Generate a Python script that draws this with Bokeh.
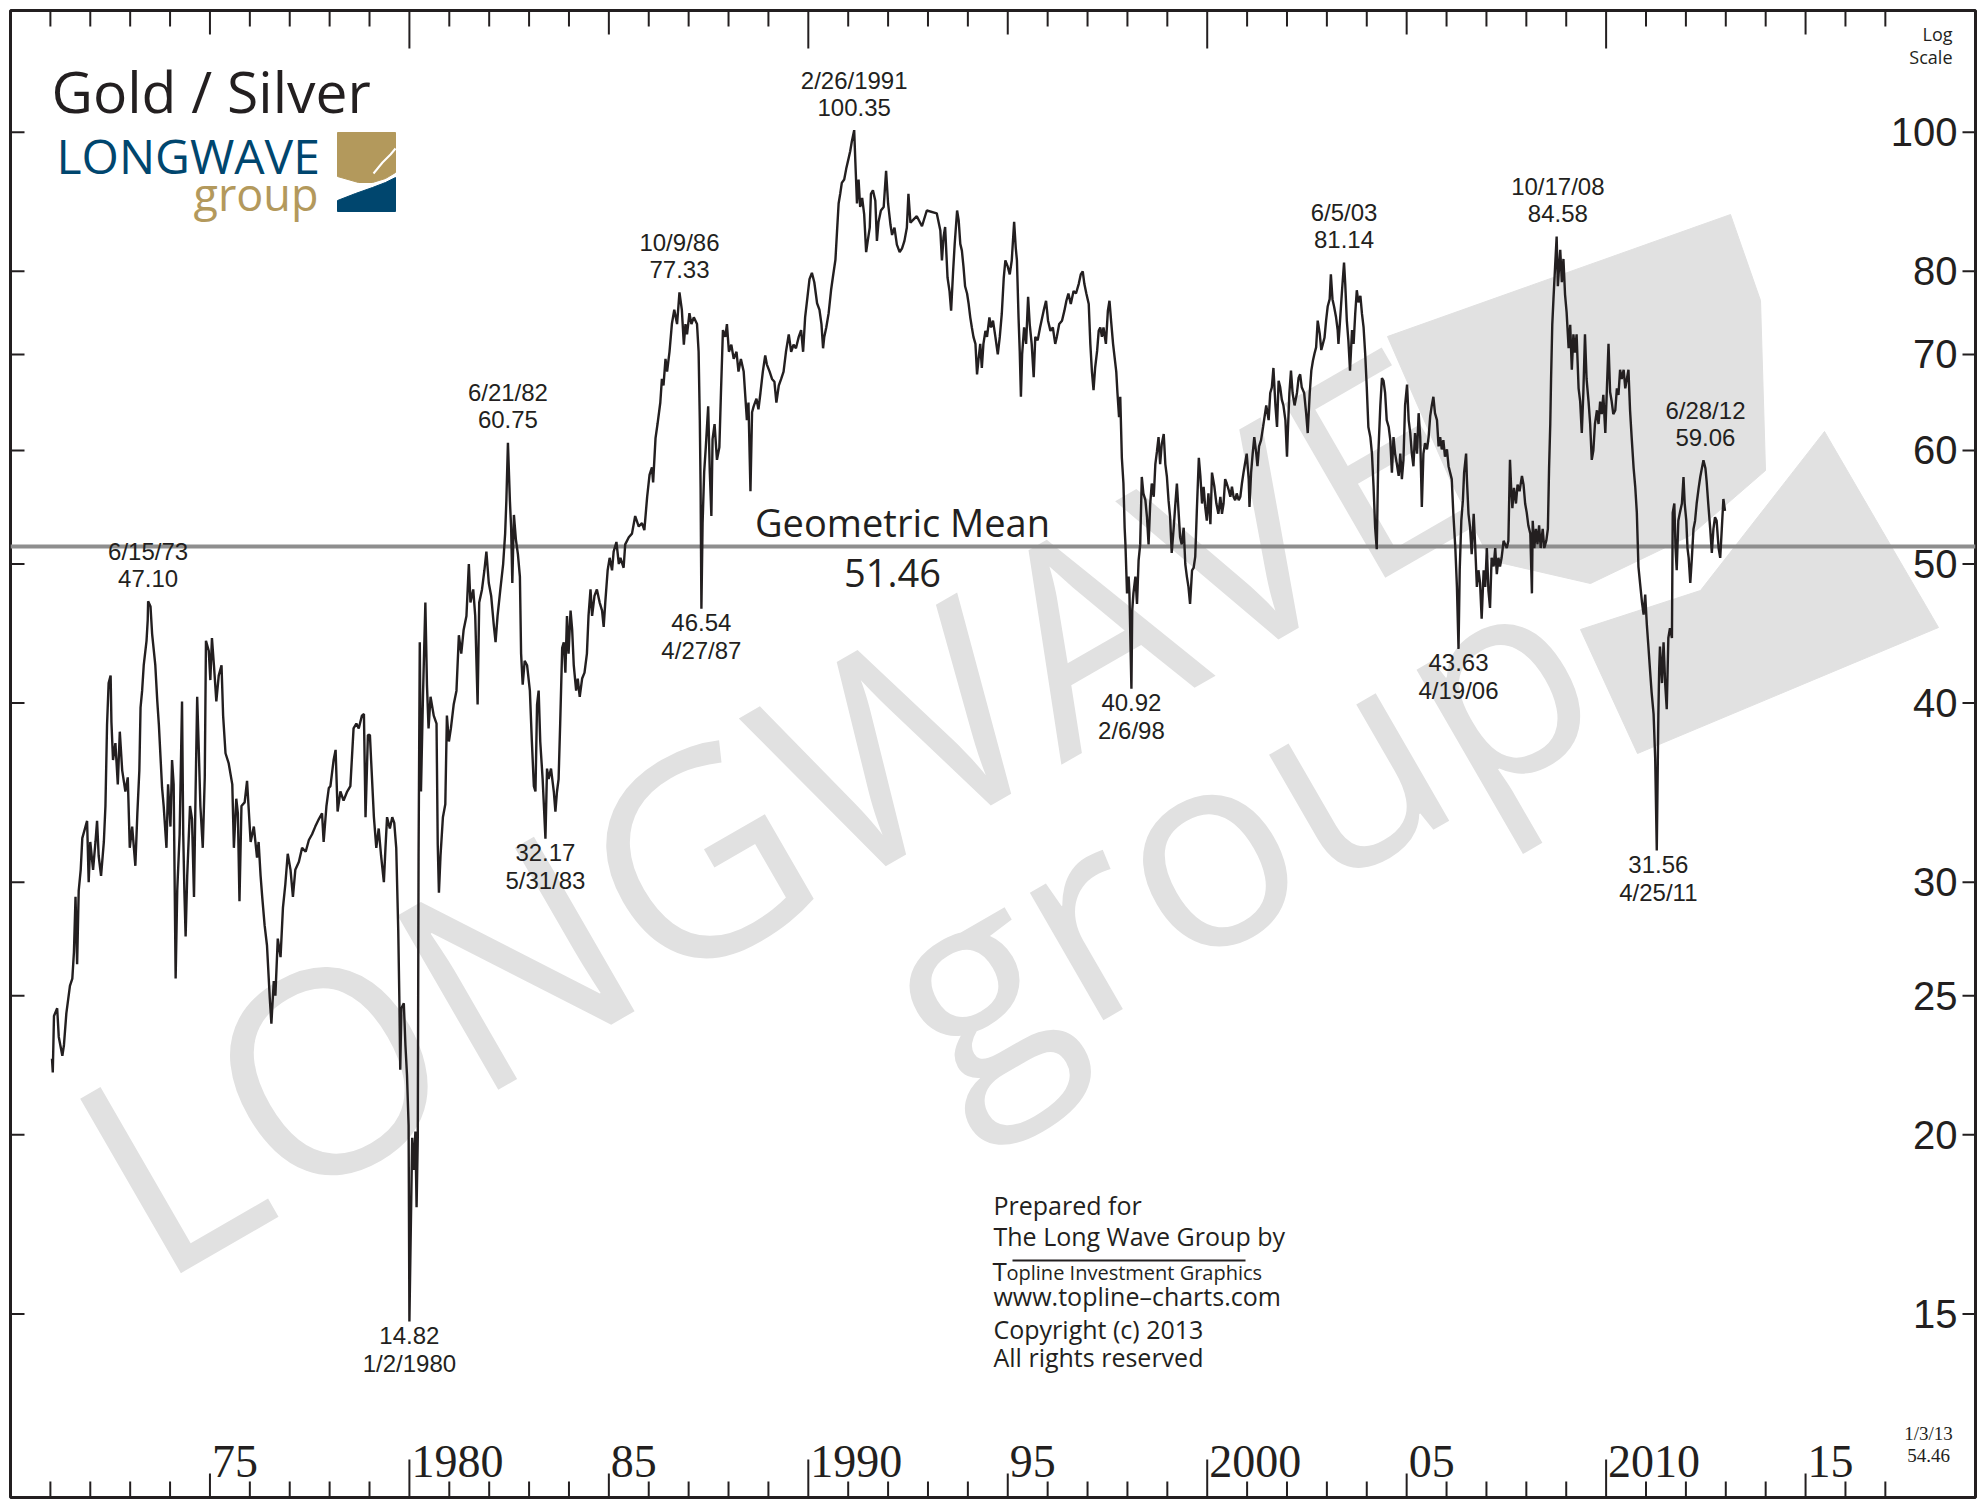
from bokeh.plotting import figure
from bokeh.models import Range1d, LinearScale
from bokeh.embed import file_html
from bokeh.resources import INLINE
from bokeh.core.properties import value
import math

# ---------------- data (decimal year, gold/silver ratio) ----------------
years_70s = [1971.04,1971.06,1971.09,1971.17,1971.21,1971.30,1971.34,1971.40,1971.49,1971.55,1971.59,1971.63,1971.67,1971.71,1971.76,1971.80,1971.88,1971.92,1971.96,
    1972.00,1972.07,1972.13,1972.17,1972.21,1972.27,1972.34,1972.38,1972.42,1972.46,1972.51,1972.53,1972.57,1972.63,1972.69,1972.74,1972.80,1972.88,1972.94,1972.99,
    1973.05,1973.13,1973.18,1973.23,1973.26,1973.30,1973.34,1973.41,1973.44,1973.45,1973.51,1973.55,1973.63,1973.68,1973.72,1973.76,1973.80,1973.84,1973.91,1973.95,
    1974.01,1974.05,1974.09,1974.14,1974.18,1974.24,1974.30,1974.33,1974.36,1974.39,1974.43,1974.50,1974.55,1974.60,1974.64,1974.68,1974.72,1974.76,1974.82,1974.87,1974.90,1974.97,
    1975.01,1975.05,1975.10,1975.16,1975.22,1975.29,1975.33,1975.39,1975.47,1975.56,1975.60,1975.66,1975.70,1975.74,1975.79,1975.87,1975.93,
    1976.02,1976.10,1976.18,1976.22,1976.27,1976.31,1976.37,1976.43,1976.50,1976.54,1976.60,1976.64,1976.70,1976.77,1976.83,1976.89,1976.95,
    1977.02,1977.08,1977.14,1977.23,1977.31,1977.40,1977.48,1977.56,1977.64,1977.73,1977.81,1977.85,1977.92,1977.98,
    1978.02,1978.10,1978.15,1978.20,1978.27,1978.35,1978.44,1978.52,1978.60,1978.67,1978.73,1978.81,1978.86,1978.90,1978.96,
    1979.01,1979.04,1979.11,1979.17,1979.23,1979.29,1979.36,1979.40,1979.44,1979.51,1979.57,1979.62,1979.67,1979.72,1979.75,1979.77,1979.80,1979.86,1979.90,1979.94,1979.98]
ratio_70s = [22.6,22.1,24.2,24.5,23.4,22.7,23.1,24.3,25.4,25.7,26.8,29.3,26.3,29.6,30.6,32.2,32.8,33.1,30.0,
    32.0,30.6,32.0,33.1,31.3,30.3,32.0,33.9,38.6,41.3,41.8,38.8,36.5,37.5,35.1,38.2,35.9,34.7,35.5,31.7,
    32.8,30.8,33.5,35.9,39.7,40.8,42.5,44.2,45.7,47.10,46.7,44.7,42.5,40.1,38.6,36.7,34.9,33.9,31.7,35.1,
    32.8,36.5,35.1,25.7,29.6,32.4,40.1,32.4,29.5,27.5,30.3,33.9,33.2,29.3,34.7,40.4,37.1,33.9,31.7,35.5,44.2,43.5,
    41.5,44.4,42.5,40.1,41.8,42.5,39.2,36.9,36.3,35.1,31.7,34.3,33.5,29.1,33.9,34.1,35.3,
    32.0,32.8,31.2,32.0,30.3,29.3,28.0,27.1,24.9,23.9,25.6,25.0,27.4,26.6,28.8,29.9,31.4,
    30.6,29.3,30.6,31.0,31.7,31.5,32.1,32.4,32.8,33.2,33.5,32.0,33.9,34.9,
    35.0,36.5,37.1,33.6,34.7,34.2,34.7,35.0,38.4,38.7,38.4,39.2,39.3,33.3,38.0,
    38.0,36.5,33.3,31.7,32.7,31.3,30.0,31.7,33.3,32.7,33.3,33.0,31.7,27.8,24.7,22.2,24.5,24.7,23.1,22.0,20.3]

years_80s = [1980.00,1980.07,1980.11,1980.15,1980.18,1980.21,1980.23,1980.26,1980.29,1980.34,1980.40,1980.44,1980.48,1980.53,1980.61,1980.68,1980.71,1980.74,1980.78,1980.84,1980.90,1980.94,1980.99,
    1981.04,1981.11,1981.18,1981.24,1981.30,1981.36,1981.43,1981.49,1981.53,1981.60,1981.65,1981.71,1981.75,1981.82,1981.88,1981.93,1981.99,
    1982.05,1982.11,1982.16,1982.21,1982.28,1982.35,1982.40,1982.43,1982.47,1982.52,1982.55,1982.58,1982.62,1982.67,1982.72,1982.77,1982.80,1982.84,1982.89,1982.95,
    1983.02,1983.07,1983.12,1983.16,1983.20,1983.24,1983.28,1983.34,1983.37,1983.41,1983.45,1983.49,1983.55,1983.62,1983.66,1983.70,1983.74,1983.78,1983.83,1983.87,1983.91,1983.95,1983.99,
    1984.04,1984.08,1984.12,1984.18,1984.22,1984.27,1984.33,1984.39,1984.45,1984.49,1984.54,1984.58,1984.64,1984.70,1984.77,1984.83,1984.87,1984.91,1984.97,
    1985.02,1985.08,1985.12,1985.19,1985.25,1985.29,1985.37,1985.41,1985.50,1985.58,1985.66,1985.75,1985.83,1985.89,1985.96,
    1986.02,1986.08,1986.11,1986.17,1986.22,1986.29,1986.33,1986.37,1986.42,1986.46,1986.52,1986.58,1986.64,1986.71,1986.77,1986.83,1986.88,1986.92,1986.96,
    1987.02,1987.07,1987.13,1987.21,1987.25,1987.28,1987.30,1987.32,1987.35,1987.39,1987.43,1987.49,1987.53,1987.57,1987.60,1987.65,1987.71,1987.77,1987.81,1987.86,1987.92,1987.96,
    1988.01,1988.07,1988.13,1988.20,1988.25,1988.31,1988.38,1988.42,1988.46,1988.50,1988.55,1988.59,1988.63,1988.70,1988.75,1988.80,1988.86,1988.92,1988.96,
    1989.03,1989.09,1989.15,1989.20,1989.26,1989.32,1989.38,1989.44,1989.51,1989.57,1989.63,1989.69,1989.76,1989.82,1989.87,1989.92,1989.98]
ratio_80s = [14.82,19.9,18.9,20.1,17.8,19.9,31.3,44.1,34.7,40.4,47.0,41.2,38.4,40.4,39.2,38.7,31.9,29.5,31.3,33.3,34.0,39.2,37.6,
    38.4,39.9,40.8,44.6,43.3,45.0,46.0,50.0,47.0,48.0,46.0,39.9,47.0,48.0,49.5,51.0,48.5,
    47.5,45.5,44.1,46.0,48.0,50.0,52.5,55.3,60.75,55.3,53.0,48.5,54.1,52.0,50.8,49.0,43.3,41.2,42.8,42.5,
    40.8,37.6,35.0,34.7,39.9,40.8,37.6,35.4,34.0,32.17,36.0,35.4,36.0,34.7,33.6,34.7,35.4,38.7,43.7,44.1,42.0,46.0,43.3,
    46.4,45.0,42.5,40.8,41.6,40.4,41.6,42.0,43.3,46.0,48.0,46.0,47.5,48.0,47.0,46.4,45.2,47.0,49.5,
    50.5,49.5,51.0,51.8,50.0,50.5,49.7,51.6,52.2,52.5,54.0,53.1,53.4,52.8,55.7,
    57.7,58.4,57.0,61.2,62.6,64.8,67.3,66.6,69.5,68.1,70.3,73.5,75.2,73.5,77.33,75.2,71.1,73.5,72.3,
    74.8,73.5,74.3,73.5,70.3,63.0,56.4,46.54,53.4,58.0,60.3,64.4,58.0,54.0,61.1,62.6,59.1,60.3,65.8,72.8,72.0,73.5,
    70.3,71.1,69.5,70.3,68.1,69.5,68.1,65.5,63.0,64.8,56.2,63.8,64.4,65.2,64.1,65.8,68.1,69.9,68.9,
    68.1,67.3,67.0,64.8,66.6,67.3,68.1,70.3,72.3,70.3,71.1,70.7,72.0,72.8,70.3,74.3,76.8]

years_90s = [1990.03,1990.09,1990.15,1990.22,1990.28,1990.33,1990.37,1990.40,1990.45,1990.51,1990.57,1990.62,1990.68,1990.72,1990.76,1990.80,1990.84,1990.90,1990.95,
    1991.01,1991.05,1991.09,1991.15,1991.18,1991.22,1991.26,1991.30,1991.35,1991.40,1991.45,1991.49,1991.54,1991.57,1991.62,1991.68,1991.72,1991.76,1991.82,1991.89,1991.95,
    1992.00,1992.06,1992.10,1992.16,1992.22,1992.29,1992.35,1992.41,1992.47,1992.51,1992.56,1992.72,1992.85,1992.97,
    1993.22,1993.31,1993.35,1993.39,1993.43,1993.49,1993.54,1993.58,1993.63,1993.67,1993.73,1993.77,1993.81,1993.85,1993.89,1993.93,1993.98,
    1994.02,1994.06,1994.10,1994.14,1994.19,1994.23,1994.27,1994.31,1994.35,1994.39,1994.44,1994.48,1994.54,1994.58,1994.63,1994.69,1994.75,1994.80,1994.85,1994.90,1994.94,
    1995.00,1995.05,1995.10,1995.16,1995.20,1995.23,1995.27,1995.30,1995.33,1995.36,1995.41,1995.46,1995.51,1995.55,1995.60,1995.65,1995.69,1995.75,1995.81,1995.90,1995.96,
    1996.01,1996.07,1996.13,1996.19,1996.23,1996.29,1996.36,1996.42,1996.47,1996.52,1996.58,1996.65,1996.71,1996.78,1996.83,1996.88,1996.92,1996.97,
    1997.03,1997.07,1997.11,1997.15,1997.19,1997.24,1997.28,1997.32,1997.36,1997.40,1997.46,1997.51,1997.55,1997.59,1997.64,1997.67,1997.72,1997.75,1997.79,1997.82,1997.86,1997.90,1997.93,1997.95,1997.99,
    1998.03,1998.05,1998.10,1998.12,1998.15,1998.20,1998.24,1998.28,1998.32,1998.36,1998.40,1998.45,1998.49,1998.53,1998.57,1998.61,1998.66,1998.70,1998.74,1998.78,1998.82,1998.86,1998.91,1998.95,1998.99,
    1999.03,1999.07,1999.11,1999.16,1999.20,1999.24,1999.28,1999.32,1999.36,1999.41,1999.45,1999.49,1999.53,1999.57,1999.62,1999.66,1999.70,1999.74,1999.79,1999.83,1999.87,1999.91,1999.95,1999.99]
ratio_90s = [79.0,79.8,78.6,76.0,75.2,73.5,70.7,72.0,73.1,74.8,77.6,79.4,81.5,85.3,89.2,90.6,92.2,92.7,94.3,
    95.9,97.0,98.5,100.35,95.3,89.2,92.7,88.7,90.0,87.7,82.5,84.0,85.8,90.6,91.1,89.6,84.0,86.6,88.2,88.7,94.0,
    89.2,86.2,84.8,85.8,83.5,82.5,83.0,84.0,85.8,90.6,86.5,87.4,86.0,88.2,
    87.8,85.4,81.4,84.5,85.9,79.2,77.5,75.1,80.0,83.6,88.2,86.8,83.6,82.7,80.6,78.1,77.2,
    75.9,74.3,73.1,72.0,71.2,67.8,69.6,71.2,68.5,71.2,72.7,72.0,74.3,73.1,73.9,72.0,70.0,72.0,74.7,79.2,81.4,
    80.6,79.6,81.4,86.6,83.1,81.4,74.3,70.4,65.4,70.0,73.1,71.2,76.8,73.5,71.2,67.5,72.0,71.6,73.1,75.1,76.3,
    73.9,72.7,73.1,71.2,72.0,73.5,73.9,75.1,76.3,77.2,75.9,77.5,77.2,78.4,79.6,80.0,78.4,77.2,
    75.9,71.2,68.1,66.1,68.5,70.4,72.7,73.1,72.0,73.1,71.2,75.1,76.3,73.9,71.2,70.0,68.1,65.8,63.3,65.4,59.3,56.9,53.0,51.6,47.7,
    49.0,47.7,40.92,46.4,47.7,49.0,46.9,50.3,51.6,57.5,56.0,55.4,53.9,51.6,55.0,56.9,55.7,58.7,59.9,61.3,58.7,60.6,61.6,58.7,57.5,
    55.4,53.9,50.9,53.0,55.0,56.9,54.5,52.2,51.6,53.0,50.0,49.0,48.2,46.9,49.5,49.7,50.6,54.5,59.3,57.5,55.1,56.6,54.8,53.6]

years_00s = [2000.03,2000.08,2000.12,2000.18,2000.23,2000.28,2000.33,2000.37,2000.41,2000.45,2000.49,2000.54,2000.58,2000.62,2000.66,2000.70,2000.74,2000.79,2000.83,2000.87,2000.91,2000.95,2000.99,
    2001.04,2001.06,2001.10,2001.14,2001.18,2001.23,2001.26,2001.30,2001.35,2001.40,2001.44,2001.48,2001.54,2001.58,2001.62,2001.66,2001.71,2001.75,2001.79,2001.83,2001.87,2001.91,2001.96,
    2002.00,2002.02,2002.06,2002.10,2002.14,2002.19,2002.25,2002.29,2002.33,2002.37,2002.43,2002.48,2002.52,2002.57,2002.61,2002.65,2002.69,2002.73,2002.77,2002.82,2002.86,2002.90,2002.94,2002.98,
    2003.02,2003.07,2003.10,2003.14,2003.18,2003.23,2003.27,2003.29,2003.33,2003.38,2003.43,2003.46,2003.50,2003.54,2003.58,2003.63,2003.67,2003.71,2003.75,2003.79,2003.84,2003.88,2003.92,2003.96,
    2004.00,2004.04,2004.09,2004.13,2004.17,2004.21,2004.25,2004.29,2004.34,2004.38,2004.42,2004.46,2004.50,2004.55,2004.59,2004.63,2004.67,2004.71,2004.75,2004.80,2004.84,2004.88,2004.92,2004.96,
    2005.01,2005.05,2005.09,2005.13,2005.17,2005.21,2005.26,2005.30,2005.34,2005.38,2005.42,2005.46,2005.51,2005.55,2005.59,2005.63,2005.67,2005.71,2005.76,2005.80,2005.84,2005.88,2005.92,2005.96,
    2006.01,2006.05,2006.09,2006.13,2006.17,2006.22,2006.26,2006.30,2006.33,2006.37,2006.41,2006.44,2006.49,2006.51,2006.55,2006.59,2006.63,2006.68,2006.72,2006.76,2006.80,
    2006.84,2006.88,2006.93,2006.97,2007.01,2007.05,2007.09,2007.13,2007.18,2007.22,2007.26,2007.30,2007.34,2007.38,2007.43,2007.47,2007.51,2007.55,2007.59,2007.62,2007.65,2007.69,2007.74,2007.78,2007.83,2007.89,2007.93,2007.97,
    2008.01,2008.05,2008.10,2008.14,2008.16,2008.20,2008.24,2008.28,2008.32,2008.36,2008.41,2008.45,2008.50,2008.54,2008.57,2008.60,2008.62,2008.65,2008.68,2008.72,2008.76,2008.79,2008.85,2008.89,2008.93,2008.97,
    2009.01,2009.06,2009.10,2009.14,2009.18,2009.22,2009.26,2009.31,2009.35,2009.39,2009.43,2009.47,2009.51,2009.56,2009.60,2009.64,2009.68,2009.72,2009.77,2009.81,2009.85,2009.89,2009.93,2009.98]
ratio_00s = [56.0,53.3,57.9,56.6,55.1,54.2,55.7,54.2,55.1,57.3,56.9,56.3,55.7,56.6,55.7,55.4,56.0,55.4,55.7,56.9,57.9,58.8,59.7,
    57.3,54.8,57.9,59.7,61.3,59.7,58.5,60.4,61.0,62.3,63.4,64.5,63.0,65.8,66.4,68.5,64.5,62.3,67.1,66.4,65.1,64.5,63.0,
    59.4,61.7,65.8,68.2,65.8,64.5,65.8,67.4,67.8,66.4,65.8,63.7,61.7,65.8,68.2,69.3,70.1,70.8,73.9,72.4,70.5,71.2,71.9,73.9,
    75.6,76.5,79.6,76.5,75.6,74.3,72.8,71.2,73.9,77.6,81.14,78.4,73.9,71.5,68.2,72.8,71.2,74.7,77.6,76.1,76.9,74.7,73.1,70.1,
    66.4,62.3,61.3,59.7,56.6,53.0,51.2,59.7,64.5,67.4,67.1,65.8,63.0,62.3,61.0,57.9,61.3,59.7,58.8,57.6,59.7,57.3,59.1,64.5,
    66.7,63.0,61.7,59.7,58.5,61.7,59.7,63.7,61.3,54.8,59.7,60.7,60.1,61.3,63.4,64.5,65.4,63.7,63.0,60.4,61.3,60.1,61.0,59.4,
    60.1,58.5,57.9,57.3,54.2,51.3,48.2,43.63,49.5,53.6,55.4,57.9,59.7,57.3,54.2,53.0,50.8,54.2,51.3,48.2,49.5,
    48.5,45.8,49.5,48.2,51.3,47.9,46.6,50.5,49.8,51.3,49.2,50.5,49.8,50.5,51.9,51.6,51.3,51.9,59.1,56.5,54.7,56.5,55.1,56.8,56.2,57.6,56.8,
    55.1,54.3,53.2,52.5,47.7,53.6,51.3,52.9,51.6,53.2,51.3,52.9,51.3,51.9,52.9,58.3,62.6,67.3,73.4,76.5,80.5,84.58,78.1,82.8,78.6,81.6,
    77.1,74.9,70.7,73.4,68.3,72.3,70.2,72.3,66.3,64.9,61.7,65.9,72.3,67.3,64.9,62.6,59.1,60.0,62.6,64.0,62.6,64.9,63.6,65.6]

years_10s = [2010.02,2010.06,2010.10,2010.14,2010.18,2010.23,2010.27,2010.31,2010.35,2010.39,2010.44,2010.48,2010.52,2010.56,2010.60,2010.64,2010.69,2010.73,2010.77,2010.81,2010.85,2010.90,2010.94,2010.98,
    2011.02,2011.06,2011.10,2011.14,2011.19,2011.23,2011.27,2011.31,2011.33,2011.35,2011.40,2011.44,2011.48,2011.52,2011.56,2011.60,2011.65,2011.67,2011.71,2011.74,2011.77,2011.81,2011.85,2011.90,2011.94,2011.97,
    2012.01,2012.04,2012.07,2012.11,2012.15,2012.19,2012.23,2012.27,2012.32,2012.36,2012.40,2012.44,2012.49,2012.52,2012.56,2012.61,2012.65,2012.69,2012.73,2012.77,2012.82,2012.86,2012.90,2012.94,2012.98,2013.01]
ratio_10s = [61.7,66.3,71.2,65.9,64.9,63.6,64.0,66.3,65.6,68.3,67.3,68.3,66.3,67.3,68.3,64.0,61.3,58.3,56.6,54.3,49.8,48.5,47.0,46.1,
    47.6,45.4,43.8,42.2,40.7,39.3,36.6,31.56,39.3,42.2,43.8,41.3,44.1,41.3,39.6,44.4,45.1,44.4,54.3,55.1,51.3,49.5,53.6,54.3,55.1,57.5,
    55.1,53.6,51.3,50.5,48.5,50.5,52.9,53.6,55.1,56.5,57.5,58.3,59.06,58.3,57.1,55.1,52.9,50.9,52.9,53.9,53.6,51.3,50.5,52.9,55.5,54.46]

years = years_70s + years_80s + years_90s + years_00s + years_10s
ratio = ratio_70s + ratio_80s + ratio_90s + ratio_00s + ratio_10s

geo_mean = 51.46
y_ticks = [15, 20, 25, 30, 40, 50, 60, 70, 80, 100]
y_tick_labels = ["15", "20", "25", "30", "40", "50", "60", "70", "80", "100"]
year_ticks = list(range(1971, 2018))
label_years = [1975, 1980, 1985, 1990, 1995, 2000, 2005, 2010, 2015]
label_texts = ["75", "1980", "85", "1990", "95", "2000", "05", "2010", "15"]

ann_x = [1973.45, 1982.47, 1986.77, 1991.15, 2003.43, 2008.79, 2012.49]
ann_v = [47.10, 60.75, 77.33, 100.35, 81.14, 84.58, 59.06]
ann_d = ["6/15/73", "6/21/82", "10/9/86", "2/26/1991", "6/5/03", "10/17/08", "6/28/12"]
low_x = [1980.00, 1983.41, 1987.32, 1998.10, 2006.30, 2011.31]
low_v = [14.82, 32.17, 46.54, 40.92, 43.63, 31.56]
low_d = ["1/2/1980", "5/31/83", "4/27/87", "2/6/98", "4/19/06", "4/25/11"]
last_date, last_value = "1/3/13", 54.46

# ---------------- figure ----------------
FW, FH = 1965, 1487
p = figure(frame_width=FW, frame_height=FH, output_backend="svg", toolbar_location=None,
           x_range=Range1d(1970.0, 2019.26), y_range=Range1d(11.17, 121.6), y_axis_type="log",
           x_axis_location=None, y_axis_location=None,
           min_border_left=10, min_border_top=10, min_border_right=2, min_border_bottom=2)
p.grid.visible = False
p.outline_line_color = "#231f20"
p.outline_line_width = 3
p.background_fill_color = "white"
p.border_fill_color = "white"
p.extra_x_ranges = {"px": Range1d(0, FW)}
p.extra_y_ranges = {"px": Range1d(FH, 0)}
p.extra_x_scales = {"px": LinearScale()}
p.extra_y_scales = {"px": LinearScale()}

WM = "#e1e1e1"
INK = "#231f20"
PX = dict(x_range_name="px", y_range_name="px")

def txt(x, y, t, size, font="Open Sans", align="left", color=INK, **kw):
    p.text(x=x, y=y, text=t, text_font=value(font), text_font_size=size, text_color=color,
           text_align=align, text_baseline="middle", **kw)

# ---------------- watermark ----------------
ang = math.radians(30)
txt([92], [1182], ["LONGWAVE"], "282px", color=WM, angle=ang, **PX)
txt([890], [1004], ["group"], "275px", color=WM, angle=ang, **PX)
p.patch(x=[1377, 1720, 1750, 1755, 1680, 1580, 1480, 1440], y=[326, 204, 290, 460, 525, 573, 550, 470],
        color=WM, **PX)
p.patch(x=[1570, 1690, 1814, 1928, 1627], y=[619, 580, 421, 617, 743], color=WM, **PX)

# ---------------- geometric mean ----------------
p.hspan(y=[geo_mean], line_color="#8e8e8e", line_width=4)
txt([892], [511], ["Geometric Mean"], "38px", align="center", **PX)
txt([882], [562], [f"{geo_mean:.2f}"], "38px", align="center", **PX)

# ---------------- series ----------------
p.line(years, ratio, line_color=INK, line_width=2.4)

# ---------------- annotations ----------------
txt(ann_x, ann_v, [f"{v:.2f}" for v in ann_v], "24px", font="Liberation Sans", align="center", y_offset=-23)
txt(ann_x, ann_v, ann_d, "24px", font="Liberation Sans", align="center", y_offset=-50)
txt(low_x, low_v, [f"{v:.2f}" for v in low_v], "24px", font="Liberation Sans", align="center", y_offset=14)
txt(low_x, low_v, low_d, "24px", font="Liberation Sans", align="center", y_offset=42)

# ---------------- axes (drawn) ----------------
def tick_len(y):
    return 38 if y % 10 == 0 else (24 if y % 5 == 0 else 16)

tl = [tick_len(y) for y in year_ticks]
p.segment(x0=year_ticks, y0=[0] * len(year_ticks), x1=year_ticks, y1=tl, line_color=INK, line_width=2,
          y_range_name="px")
p.segment(x0=year_ticks, y0=[FH] * len(year_ticks), x1=year_ticks, y1=[FH - t for t in tl], line_color=INK,
          line_width=2, y_range_name="px")
txt(label_years, [FH - 36] * len(label_years), label_texts, "46px", font="Liberation Sans Narrow",
    x_offset=2, y_range_name="px")

p.segment(x0=[FW - 13] * len(y_ticks), y0=y_ticks, x1=[FW] * len(y_ticks), y1=y_ticks, line_color=INK,
          line_width=2, x_range_name="px")
p.segment(x0=[0] * len(y_ticks), y0=y_ticks, x1=[14] * len(y_ticks), y1=y_ticks, line_color=INK,
          line_width=2, x_range_name="px")
txt([FW - 18] * len(y_ticks), y_ticks, y_tick_labels, "40px", font="Liberation Sans", align="right",
    x_range_name="px")

txt([1942, 1942], [23, 46], ["Log", "Scale"], "18px", align="right", **PX)
txt([1918, 1918], [1423, 1445], [last_date, f"{last_value:.2f}"], "19px", font="Liberation Sans Narrow",
    align="center", **PX)

# ---------------- title & logo ----------------
txt([41], [80], ["Gold / Silver"], "57px", **PX)
txt([46], [145], ["LONGWAVE"], "48px", color="#00466e", **PX)
txt([308], [183], ["group"], "45px", color="#b3995c", align="right", **PX)
p.patch(x=[327, 385, 385, 375, 362, 348, 327], y=[122, 122, 162, 168, 172, 172, 166], color="#b3995c", **PX)
p.patch(x=[385, 385, 327, 327, 345, 362, 375], y=[167, 201, 201, 190, 183, 177, 172], color="#00466e", **PX)
p.line(x=[363, 372, 380, 385], y=[163, 152, 144, 138], line_color="white", line_width=2, **PX)

# ---------------- credit block ----------------
txt([983] * 2, [1194, 1225], ["Prepared for", "The Long Wave Group by"], "25px", **PX)
p.segment(x0=[1002], y0=[1250], x1=[1235], y1=[1250], line_color=INK, line_width=2, **PX)
txt([982], [1260], ["T"], "26px", **PX)
txt([996], [1262], ["opline Investment Graphics"], "20px", **PX)
txt([983] * 3, [1285, 1318, 1346], ["www.topline\u2013charts.com", "Copyright (c) 2013", "All rights reserved"],
    "25px", **PX)

open("out.html", "w").write(file_html(p, INLINE))
